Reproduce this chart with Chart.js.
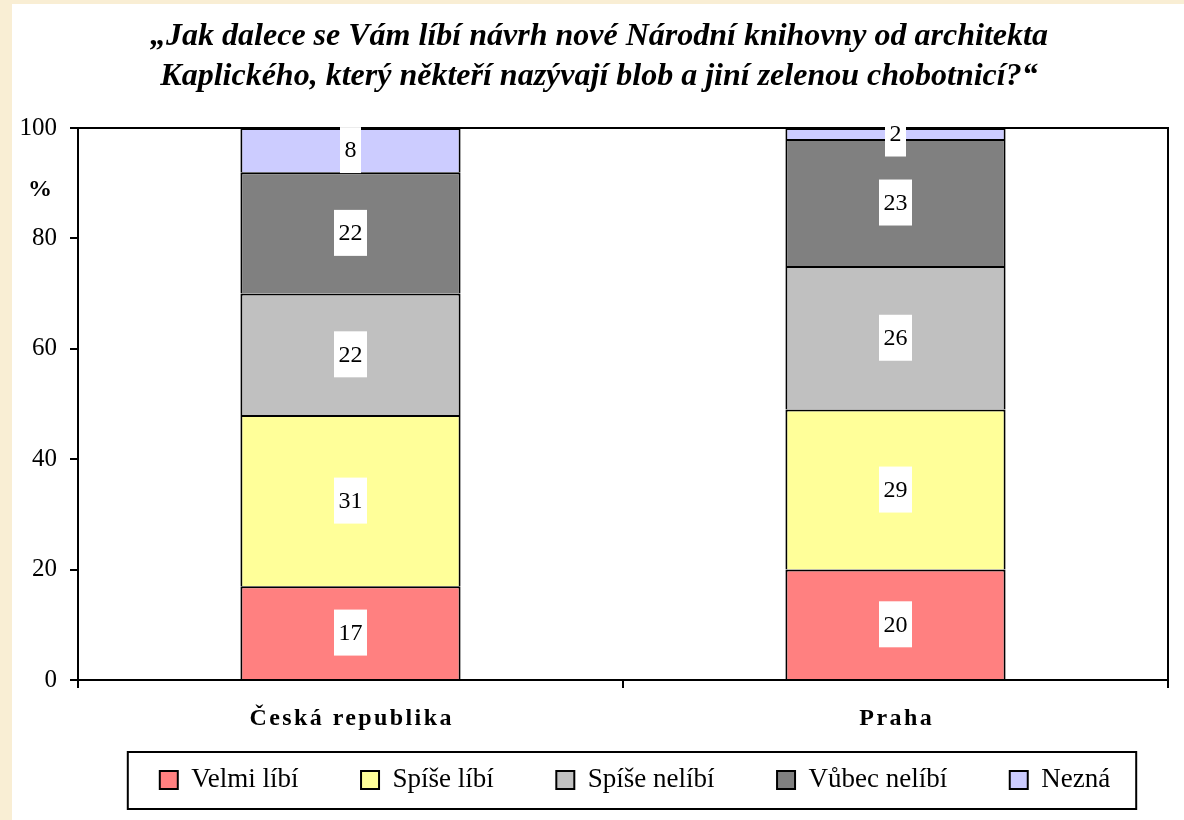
<!DOCTYPE html>
<html lang="cs">
<head>
<meta charset="utf-8">
<title>Návrh Národní knihovny</title>
<script src="https://cdn.jsdelivr.net/npm/chart.js@4.4.1/dist/chart.umd.min.js"></script>
<style>
  html, body { margin: 0; padding: 0; }
  body { width: 1184px; height: 820px; background: #f9eed4; position: relative; overflow: hidden; }
  #wrap { position: absolute; left: 12px; top: 4px; width: 1172px; height: 816px; background: #fff; }
</style>
</head>
<body>
<div id="wrap"><canvas id="chart" width="1172" height="816"></canvas></div>
<script>
// data
const categories = ['Česká republika', 'Praha'];
const seriesNames = ['Velmi líbí', 'Spíše líbí', 'Spíše nelíbí', 'Vůbec nelíbí', 'Nezná'];
const velmiLibi = [17, 20];
const spiseLibi = [31, 29];
const spiseNelibi = [22, 26];
const vubecNelibi = [22, 23];
const nezna = [8, 2];
const yTicks = [0, 20, 40, 60, 80, 100];
const titleLines = [
    '„Jak dalece se Vám líbí návrh nové Národní knihovny od architekta',
    'Kaplického, který někteří nazývají blob a jiní zelenou chobotnicí?“'
];
const unitLabel = '%';

const colors = ['#ff8080', '#ffff99', '#c0c0c0', '#808080', '#ccccff'];
const serif = "'Liberation Serif', 'Times New Roman', serif";

const seriesValues = [velmiLibi, spiseLibi, spiseNelibi, vubecNelibi, nezna];

// ramecek plochy grafu + popisky kategorii + hodnoty v bilych stitcich
const extras = {
    id: 'extras',
    afterLayout(chart) {
        // legenda i titulek jsou v originale posunute doprava
        if (chart.legend) {
            chart.legend.left += 45;
            chart.legend.right += 45;
        }
        if (chart.titleBlock) {
            chart.titleBlock.left += 9;
            chart.titleBlock.right += 9;
        }
    },
    beforeDatasetsDraw(chart) {
        const { ctx, chartArea: a } = chart;
        ctx.save();
        ctx.strokeStyle = '#000';
        ctx.lineWidth = 2;
        ctx.beginPath();
        ctx.moveTo(a.left, a.top);
        ctx.lineTo(a.right, a.top);
        ctx.lineTo(a.right, a.bottom);
        ctx.stroke();
        ctx.restore();
    },
    afterDraw(chart) {
        const { ctx, chartArea: a } = chart;
        const x = chart.scales.x;
        const y = chart.scales.y;
        ctx.save();

        // popisky kategorii (tucne, prostrkane)
        ctx.font = 'bold 24px ' + serif;
        ctx.fillStyle = '#000';
        ctx.textAlign = 'center';
        ctx.textBaseline = 'middle';
        ctx.letterSpacing = '2.4px';
        categories.forEach((c, i) => {
            ctx.fillText(c, x.getPixelForValue(i) + 1.2, a.bottom + 39);
        });
        ctx.letterSpacing = '0px';

        // jednotka
        ctx.font = 'bold 24px ' + serif;
        ctx.fillText(unitLabel, 28, y.getPixelForValue(100) + 62);

        // hodnoty
        ctx.font = '24px ' + serif;
        chart.data.datasets.forEach((ds, di) => {
            const meta = chart.getDatasetMeta(di);
            meta.data.forEach((bar, i) => {
                const txt = String(ds.data[i]);
                const cy = (bar.y + bar.base) / 2;
                const w = ctx.measureText(txt).width + 9;
                const h = 46;
                ctx.fillStyle = '#fff';
                ctx.fillRect(bar.x - w / 2, cy - h / 2, w, h);
                ctx.fillStyle = '#000';
                ctx.fillText(txt, bar.x, cy + 1);
            });
        });

        // ramecek legendy
        const lg = chart.legend;
        if (lg && lg.legendHitBoxes.length) {
            const hb = lg.legendHitBoxes;
            const l = Math.min(...hb.map(b => b.left)) - 32;
            const r = Math.max(...hb.map(b => b.left + b.width)) + 26;
            const cy = hb[0].top + hb[0].height / 2;
            ctx.strokeStyle = '#000';
            ctx.lineWidth = 2;
            ctx.strokeRect(l, cy - 28, r - l, 57);
        }
        ctx.restore();
    }
};

const chart = new Chart(document.getElementById('chart'), {
    type: 'bar',
    data: {
        labels: categories,
        datasets: seriesNames.map((name, i) => ({
            label: name,
            data: seriesValues[i],
            backgroundColor: colors[i],
            borderColor: '#000',
            borderWidth: 2,
            categoryPercentage: 1,
            barPercentage: 0.404
        }))
    },
    options: {
        responsive: false,
        animation: false,
        layout: { padding: { left: 0, right: 16, top: 0, bottom: 16.5 } },
        plugins: {
            title: {
                display: true,
                text: titleLines,
                color: '#000',
                font: { family: serif, size: 32, weight: 'bold', style: 'italic', lineHeight: 1.25 },
                padding: { top: 13, bottom: 31 }
            },
            legend: {
                display: true,
                position: 'bottom',
                labels: {
                    color: '#000',
                    font: { family: serif, size: 27 },
                    boxWidth: 18,
                    boxHeight: 18,
                    padding: 62.5
                }
            },
            tooltip: { enabled: false }
        },
        scales: {
            x: {
                stacked: true,
                grid: { offset: true, drawOnChartArea: false, drawTicks: true, tickLength: 8, color: '#000', lineWidth: 2 },
                border: { display: true, color: '#000', width: 2 },
                ticks: { display: false },
                afterFit: s => { s.height = 24; }
            },
            y: {
                stacked: true,
                min: 0,
                max: 100,
                afterBuildTicks: s => { s.ticks = yTicks.map(v => ({ value: v })); },
                grid: { drawOnChartArea: false, drawTicks: true, tickLength: 8, color: '#000', lineWidth: 2 },
                border: { display: true, color: '#000', width: 2 },
                ticks: { color: '#000', font: { family: serif, size: 25 }, padding: 13 },
                afterFit: s => { s.width = 66; }
            }
        }
    },
    plugins: [extras]
});
</script>
</body>
</html>
